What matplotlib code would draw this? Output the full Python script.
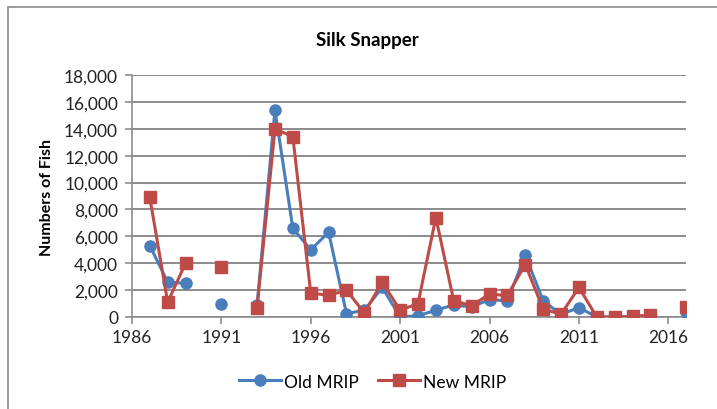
import numpy as np
import matplotlib.pyplot as plt
from matplotlib.patches import Rectangle

# Annual estimates, NaN where no estimate exists for that year
years = np.arange(1987, 2018)
old_mrip = [5300, 2600, 2500, np.nan, 1000, np.nan, 900, 15400, 6600, 5000,
            6300, 250, 500, 2200, 0, 100, 500, 900, 750, 1300,
            1200, 4600, 1200, 200, 700, 0, 0, 50, 100, np.nan, 350]
new_mrip = [8900, 1100, 4000, np.nan, 3700, np.nan, 700, 14000, 13400, 1800,
            1600, 2000, 300, 2600, 500, 1000, 7400, 1200, 850, 1700,
            1600, 3900, 600, 200, 2200, 0, 0, 50, 130, np.nan, 750]
y_ticks = np.arange(0, 18001, 2000)
x_ticks = [1986, 1991, 1996, 2001, 2006, 2011, 2016]

plt.rcParams['font.family'] = ['Lato', 'DejaVu Sans']

blue = '#4a7ebb'
red = '#be4b48'
grid = '#8c8c8c'

fig = plt.figure(figsize=(7.17, 4.10), dpi=100)
ax = fig.add_axes([0.184, 0.2244, 0.773, 0.5902])

ax.plot(years, old_mrip, color=blue, lw=2.2, marker='o', ms=8,
        label='Old MRIP', zorder=3)
ax.plot(years, new_mrip, color=red, lw=2.2, marker='s', ms=8,
        label='New MRIP', zorder=4)

ax.set_xlim(1986, 2017)
ax.set_ylim(0, 18000)
ax.set_yticks(y_ticks)
ax.set_yticklabels([f'{v:,}' for v in y_ticks])
ax.set_xticks(x_ticks)
ax.yaxis.grid(True, color=grid, lw=1.4)
ax.set_axisbelow(True)

for side in ['top', 'right']:
    ax.spines[side].set_visible(False)
for side in ['left', 'bottom']:
    ax.spines[side].set_color(grid)
    ax.spines[side].set_linewidth(1.2)
ax.tick_params(axis='both', colors=grid, length=5, width=1.2, labelsize=12.5,
               labelcolor='#222222', direction='out')
ax.tick_params(axis='y', pad=5)

ax.set_ylabel('Numbers of Fish', fontsize=11.5, fontweight='bold', labelpad=7)
fig.text(0.513, 0.902, 'Silk Snapper', ha='center', va='center',
         fontsize=13.5, fontweight='bold')

fig.legend(loc='center', bbox_to_anchor=(0.52, 0.067), ncol=2, frameon=False,
           fontsize=12.5, handlelength=2.4, columnspacing=1.1, handletextpad=0.2)

# outer chart frame
fig.patches.append(Rectangle((8 / 717, -0.1), 1.2, 1 - 8 / 410 + 0.1,
                             transform=fig.transFigure, fill=False,
                             edgecolor='#8c8c8c', lw=1.2))

fig.savefig('out.png', dpi=100)
